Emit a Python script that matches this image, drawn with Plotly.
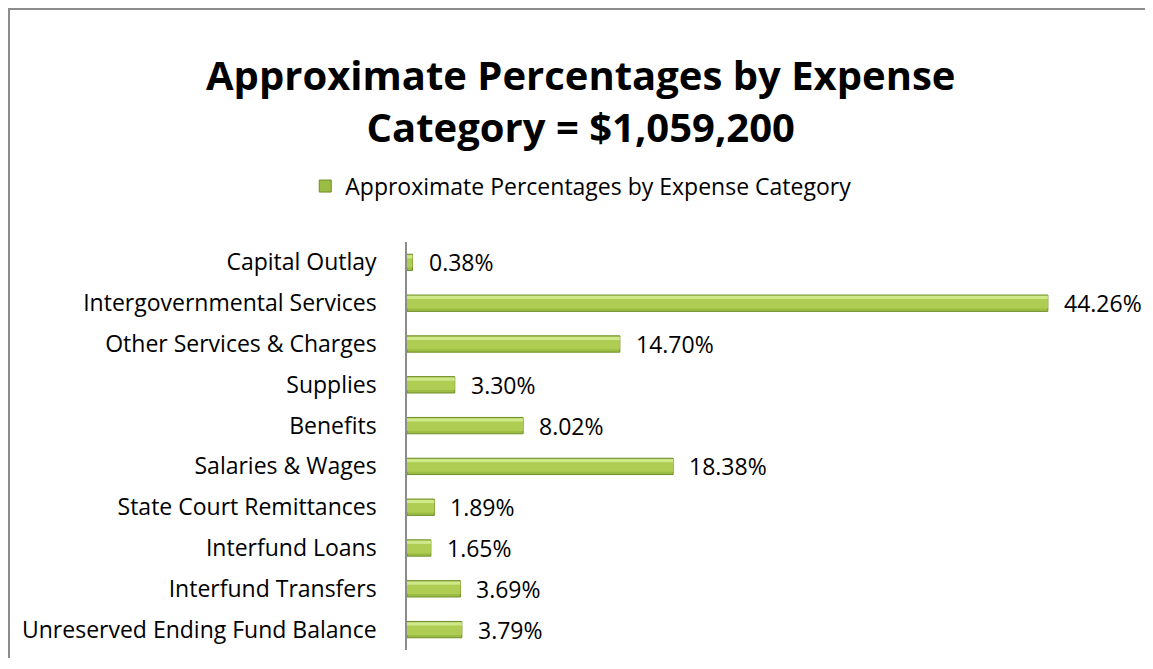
import plotly.graph_objects as go

categories = ["Unreserved Ending Fund Balance", "Interfund Transfers", "Interfund Loans",
              "State Court Remittances", "Salaries & Wages", "Benefits", "Supplies",
              "Other Services & Charges", "Intergovernmental Services", "Capital Outlay"]
values = [3.79, 3.69, 1.65, 1.89, 18.38, 8.02, 3.30, 14.70, 44.26, 0.38]
series_name = "Approximate Percentages by Expense Category"
title_text = "Approximate Percentages by Expense<br>Category = $1,059,200"

FONT = "Open Sans"
FS = 23

fig = go.Figure()
# base (dark olive edge)
fig.add_trace(go.Bar(
    y=categories, x=values, orientation="h", name=series_name,
    marker=dict(color="#9cbd44", line=dict(color="#6f8d26", width=1)),
    width=0.40, showlegend=True,
))
# body
fig.add_trace(go.Bar(
    y=categories, x=values, orientation="h", name="body",
    marker=dict(color="#aecd52", line=dict(width=0)),
    width=0.24, offset=-0.13, showlegend=False, hoverinfo="skip",
))
# top highlight
fig.add_trace(go.Bar(
    y=categories, x=values, orientation="h", name="hl",
    marker=dict(color="#cfe88a", line=dict(width=0)),
    width=0.08, offset=0.10, showlegend=False, hoverinfo="skip",
))

annotations = []
for c, v in zip(categories, values):
    annotations.append(dict(x=v, y=c, xref="x", yref="y", text=f"{v:.2f}%",
                            showarrow=False, xanchor="left", xshift=14,
                            font=dict(family=FONT, size=FS, color="#000")))
annotations.append(dict(text=title_text, xref="paper", yref="paper", x=0.240, y=1.348,
                        xanchor="center", yanchor="middle", showarrow=False,
                        font=dict(family=FONT, size=40, color="#000", weight="bold")))

fig.update_layout(
    width=1145, height=650,
    margin=dict(l=399, r=22, t=234, b=8),
    paper_bgcolor="white", plot_bgcolor="white",
    barmode="overlay",
    legend=dict(orientation="h", x=0.24, xanchor="center",
                y=1.137, yanchor="middle",
                font=dict(family=FONT, size=FS, color="#000"),
                itemwidth=30),
    xaxis=dict(range=[0, 50], visible=False, showgrid=False),
    yaxis=dict(showline=True, linecolor="#8c8c8c", linewidth=1.5, showgrid=False,
               ticks="", ticklabelstandoff=24,
               tickfont=dict(family=FONT, size=FS, color="#000")),
    annotations=annotations,
    shapes=[dict(type="path", xref="paper", yref="paper",
                 path="M -0.5497 -0.03 L -0.5497 1.571 L 1.031 1.571",
                 line=dict(color="#8c8c8c", width=2))],
)

fig.write_html("out.html", config={"displayModeBar": False})
